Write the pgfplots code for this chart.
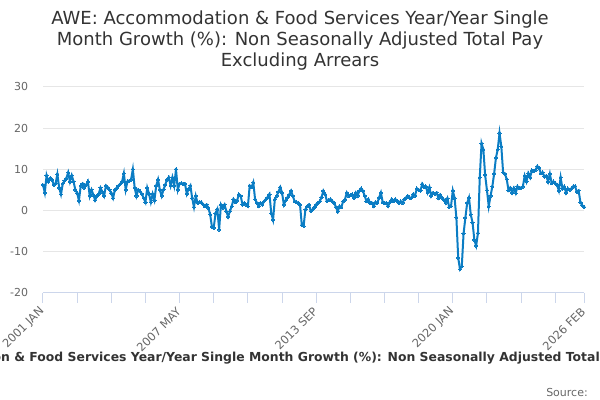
\documentclass[border=0pt]{standalone}
\usepackage{pgfplots}
\pgfplotsset{compat=1.18}
\usepackage{fontspec}
\setmainfont{DejaVu Sans}
\definecolor{linec}{HTML}{0B7DC4}
\definecolor{gridc}{HTML}{E6E6E6}
\definecolor{axisc}{HTML}{CCD6EB}
\definecolor{labc}{HTML}{666666}
\definecolor{titc}{HTML}{333333}
\pgfplotstableread{
x y
0 6.2
1 4.3
2 8.5
3 7.0
4 7.8
5 7.5
6 6.2
7 6.5
8 8.8
9 5.5
10 3.9
11 6.5
12 7.2
13 7.8
14 9.2
15 7.0
16 8.5
17 7.0
18 5.0
19 4.2
20 2.4
21 6.0
22 6.5
23 5.5
24 6.2
25 7.0
26 3.5
27 5.0
28 3.8
29 2.5
30 3.5
31 4.0
32 5.5
33 4.5
34 3.5
35 6.0
36 5.6
37 5.0
38 4.2
39 3.0
40 5.0
41 5.4
42 6.0
43 6.4
44 7.0
45 9.0
46 5.0
47 7.0
48 7.2
49 7.5
50 10.0
51 5.5
52 3.5
53 5.0
54 4.6
55 4.0
56 3.0
57 2.0
58 5.5
59 4.0
60 2.0
61 4.0
62 2.5
63 6.0
64 7.5
65 5.0
66 3.5
67 5.0
68 6.2
69 7.5
70 8.0
71 6.0
72 8.0
73 6.0
74 10.0
75 5.0
76 6.5
77 6.6
78 6.4
79 6.5
80 4.0
81 5.2
82 6.0
83 3.0
84 0.8
85 3.5
86 1.8
87 2.0
88 2.0
89 1.5
90 1.0
91 1.4
92 0.6
93 -1.0
94 -4.0
95 -4.2
96 -0.7
97 0.3
98 -4.7
99 1.4
100 0.6
101 1.4
102 -0.2
103 -1.5
104 -0.2
105 1.0
106 2.7
107 2.0
108 2.4
109 3.9
110 3.5
111 1.4
112 1.8
113 1.4
114 1.0
115 6.0
116 5.6
117 6.8
118 2.7
119 1.8
120 1.0
121 1.8
122 1.4
123 2.2
124 2.7
125 3.2
126 3.9
127 -0.7
128 -2.3
129 2.7
130 3.5
131 4.5
132 5.6
133 4.3
134 1.4
135 2.4
136 3.1
137 3.8
138 4.75
139 3.5
140 2.2
141 2.0
142 1.8
143 1.4
144 -3.6
145 -3.8
146 0.2
147 1.0
148 1.4
149 -0.2
150 0.2
151 0.8
152 1.4
153 1.8
154 2.2
155 3.2
156 4.75
157 3.9
158 2.2
159 2.5
160 2.7
161 2.2
162 1.8
163 0.8
164 -0.25
165 1.0
166 0.8
167 2.2
168 2.6
169 4.3
170 3.5
171 3.7
172 3.9
173 3.1
174 4.3
175 3.5
176 4.75
177 5.3
178 4.75
179 3.5
180 2.2
181 2.7
182 1.8
183 1.8
184 1.0
185 2.0
186 1.8
187 3.1
188 4.3
189 2.0
190 1.8
191 1.8
192 1.0
193 2.0
194 2.7
195 2.2
196 2.7
197 2.3
198 1.8
199 2.2
200 1.8
201 2.7
202 3.1
203 3.5
204 3.0
205 3.1
206 3.9
207 3.6
208 5.3
209 5.0
210 4.8
211 6.4
212 5.6
213 5.8
214 4.3
215 5.6
216 3.5
217 4.3
218 4.0
219 4.3
220 3.0
221 3.8
222 3.1
223 2.6
224 1.8
225 2.9
226 0.8
227 1.0
228 4.8
229 3.0
230 -1.8
231 -11.5
232 -14.3
233 -13.6
234 -5.6
235 -1.8
236 1.8
237 3.1
238 -1.0
239 -3.0
240 -7.2
241 -8.6
242 -5.5
243 8.0
244 16.3
245 14.8
246 8.6
247 4.9
248 1.0
249 3.5
250 5.8
251 8.9
252 12.8
253 14.8
254 18.8
255 15.5
256 9.2
257 8.9
258 7.6
259 4.9
260 5.5
261 4.3
262 5.4
263 4.2
264 5.8
265 5.4
266 5.5
267 5.8
268 8.4
269 7.0
270 9.0
271 8.0
272 9.7
273 9.5
274 9.8
275 10.7
276 10.3
277 9.0
278 9.2
279 8.2
280 8.4
281 7.0
282 8.9
283 6.6
284 7.0
285 6.6
286 6.2
287 4.8
288 8.0
289 5.3
290 5.8
291 4.3
292 5.3
293 5.0
294 5.3
295 5.8
296 5.9
297 4.5
298 4.8
299 2.0
300 1.2
301 0.8
}\awedata
\begin{document}
\begin{tikzpicture}
\begin{axis}[
  at={(32.25pt,80.5pt)}, anchor=south west,
  scale only axis, width=405.75pt, height=154.3pt,
  xmin=0, xmax=301, ymin=-20, ymax=30,
  clip=false,
  axis x line*=bottom, axis y line*=left,
  x axis line style={draw=axisc, line width=0.75pt, -},
  y axis line style={draw=none},
  ytick={-20,-10,0,10,20,30},
  yticklabels={-20,-10,0,10,20,30},
  ymajorgrids, grid style={draw=gridc, line width=0.75pt},
  tick style={draw=axisc, line width=0.75pt},
  minor tick style={draw=axisc, line width=0.75pt},
  ytick style={draw=none},
  yticklabel style={font=\fontsize{8.25}{10}\selectfont, text=labc, inner sep=0pt, anchor=east, xshift=-3.5pt},
  xtick={0,76,152,228,301},
  xticklabels={2001 JAN,2007 MAY,2013 SEP,2020 JAN,2026 FEB},
  minor xtick={19,38,57,95,114,133,171,190,209,247,266,285},
  tick align=outside,
  major tick length=7.5pt, minor tick length=7.5pt,
  xticklabel style={font=\fontsize{8.6}{10}\selectfont, text=labc, xshift=-0.5pt, yshift=-5pt, rotate=45, anchor=east, inner sep=0pt},
]
\addplot[color=linec, line width=1.5pt, mark=*, mark size=1.2pt, mark options={fill=linec, draw=linec, line width=0pt}] table[x=x, y=y] {\awedata};
\end{axis}
\node[text=titc, font=\fontsize{13.5}{15.75}\selectfont, align=center] at (225pt,269.25pt) {AWE: Accommodation \& Food Services Year/Year Single\\Month Growth (\%): Non Seasonally Adjusted Total Pay\\Excluding Arrears};
\node[text=titc, font=\fontsize{9.3}{11}\selectfont\bfseries, inner sep=0pt] at (230.6pt,31.5pt) {AWE: Accommodation \& Food Services Year/Year Single Month Growth (\%): Non Seasonally Adjusted Total Pay Excluding Arrears};
\node[text=labc, font=\fontsize{8.25}{10}\selectfont, anchor=east, inner sep=0pt] at (441pt,6pt) {Source:};
\pgfresetboundingbox
\path[use as bounding box] (0,0) rectangle (450pt,300pt);
\end{tikzpicture}
\end{document}
